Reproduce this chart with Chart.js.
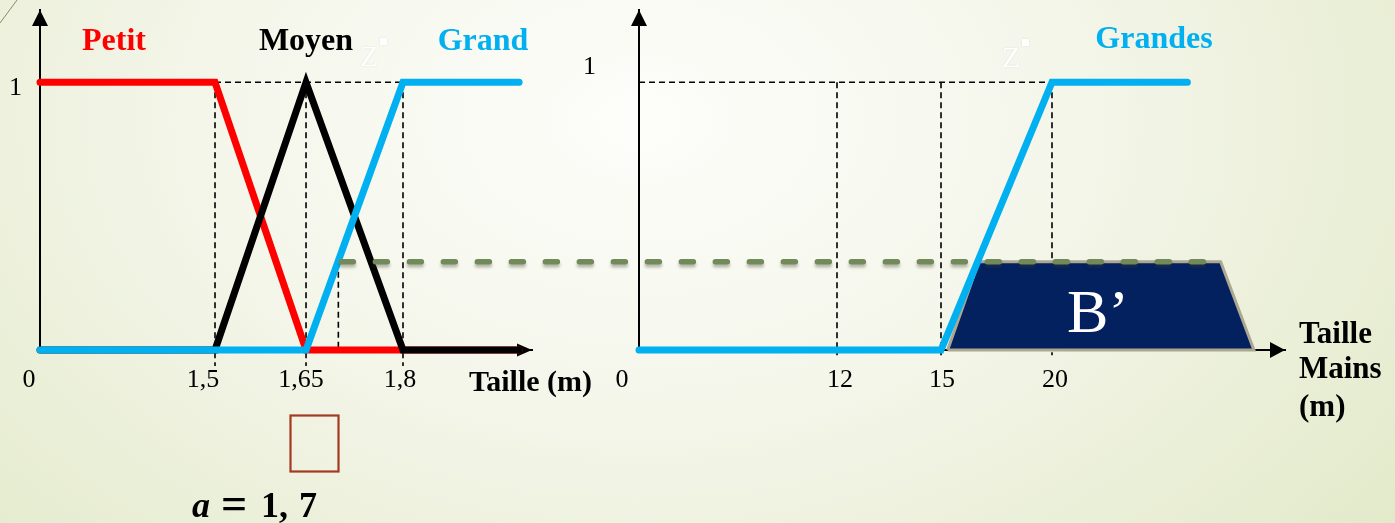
<!DOCTYPE html>
<html lang="fr">
<head>
<meta charset="utf-8">
<title>Taille et Taille Mains</title>
<script src="https://cdn.jsdelivr.net/npm/chart.js@4.4.1/dist/chart.umd.min.js"></script>
<style>
  html, body { margin: 0; padding: 0; }
  body {
    width: 1395px;
    height: 523px;
    overflow: hidden;
    position: relative;
    background: radial-gradient(ellipse 950px 650px at 640px 120px, #fdfdfa 0%, #f4f6ea 45%, #e3eaca 100%);
  }
  canvas { position: absolute; left: 0; top: 0; }
</style>
</head>
<body>
<canvas id="leftChart" width="1395" height="523"></canvas>
<canvas id="rightChart" width="1395" height="523"></canvas>
<script>
// left diagram: Taille (m)
const TAILLE_TICKS = [0, 1.5, 1.65, 1.8];
const TAILLE_LABELS = ["0", "1,5", "1,65", "1,8"];
const PETIT = [[0, 1], [1.5, 1], [1.65, 0], [1.98, 0]];
const MOYEN = [[0, 0], [1.5, 0], [1.65, 1], [1.8, 0], [1.98, 0]];
const GRAND = [[0, 0], [1.65, 0], [1.8, 1], [1.98, 1]];
const A_VALUE = 1.7;
const CUT_LEVEL = 0.33;

// right diagram: Taille Mains (m)
const MAINS_TICKS = [0, 12, 15, 20];
const MAINS_LABELS = ["0", "12", "15", "20"];
const GRANDES = [[0, 0], [15, 0], [20, 1], [26.1, 1]];
const B_PRIME = [[15.3, 0], [16.7, 0.33], [27.6, 0.33], [29.1, 0], [15.3, 0]];

const COLORS = {
  petit: "#ff0000",
  moyen: "#000000",
  grand: "#00b0f0",
  cut: "#72895a",
  bFill: "#03205f",
  bEdge: "#aca791",
  marker: "#a1311b",
  box: "#a33a22",
};
const SERIF = "'Liberation Serif', 'Times New Roman', serif";

// the x axes are not drawn to one scale: each stop is [value, fraction of axis length]
const TAILLE_STOPS = [[0, 0], [1.5, 0.3557], [1.65, 0.5407], [1.8, 0.7378], [2.0, 1]];
const MAINS_STOPS = [[0, 0], [12, 0.3065], [15, 0.4675], [20, 0.6393], [30.5, 1]];

function brokenScale(id, stops, labelShift) {
  return class extends Chart.LinearScale {
    static id = id;
    static defaults = Chart.LinearScale.defaults;

    getPixelForValue(value) {
      if (value === null || value === undefined) return NaN;
      let i = 1;
      while (i < stops.length - 1 && value > stops[i][0]) i++;
      const [v0, f0] = stops[i - 1];
      const [v1, f1] = stops[i];
      return this.getPixelForDecimal(f0 + ((value - v0) / (v1 - v0)) * (f1 - f0));
    }

    getValueForPixel(pixel) {
      const d = this.getDecimalForPixel(pixel);
      let i = 1;
      while (i < stops.length - 1 && d > stops[i][1]) i++;
      const [v0, f0] = stops[i - 1];
      const [v1, f1] = stops[i];
      return v0 + ((d - f0) / (f1 - f0)) * (v1 - v0);
    }

    getPixelForTick(index) {
      return super.getPixelForTick(index) + (labelShift[index] || 0);
    }
  };
}

Chart.register(
  brokenScale("tailleAxis", TAILLE_STOPS, [-11, -12, -5, -3]),
  brokenScale("mainsAxis", MAINS_STOPS, [-17, 3, 1, 3])
);

const pts = (arr) => arr.map(([x, y]) => ({ x, y }));

function curve(data, color) {
  return {
    data: pts(data),
    showLine: true,
    borderColor: color,
    borderWidth: 7,
    borderCapStyle: "round",
    borderJoinStyle: "miter",
    pointRadius: 0,
    clip: false,
  };
}

function guide(data) {
  return {
    data: pts(data),
    showLine: true,
    borderColor: "#000000",
    borderWidth: 1.6,
    borderDash: [6, 4],
    pointRadius: 0,
    clip: false,
  };
}

function noOverflow(scale) {
  scale.paddingTop = 0;
  scale.paddingBottom = 0;
  scale.paddingLeft = 0;
  scale.paddingRight = 0;
}

function xAxis(type, max, ticks, labels) {
  return {
    type,
    min: 0,
    max,
    grid: { display: false, drawTicks: false },
    border: { display: true, color: "#000000", width: 2 },
    afterBuildTicks: (scale) => { scale.ticks = ticks.map((value) => ({ value })); },
    afterFit: (scale) => { scale.height = 173; noOverflow(scale); },
    ticks: {
      autoSkip: false,
      maxRotation: 0,
      minRotation: 0,
      padding: 15,
      color: "#000000",
      font: { family: SERIF, size: 26 },
      callback: (value, index) => labels[index],
    },
  };
}

function yAxis(width, padding, labelOffset) {
  return {
    type: "linear",
    min: 0,
    max: 1.27,
    grid: { display: false, drawTicks: false },
    border: { display: true, color: "#000000", width: 2 },
    afterBuildTicks: (scale) => { scale.ticks = [{ value: 1 }]; },
    afterFit: (scale) => { scale.width = width; noOverflow(scale); },
    ticks: {
      padding,
      labelOffset,
      color: "#000000",
      font: { family: SERIF, size: 26 },
      callback: () => "1",
    },
  };
}

function drawText(ctx, str, x, y, font, color, align = "left") {
  ctx.save();
  ctx.font = font;
  ctx.fillStyle = color;
  ctx.textAlign = align;
  ctx.textBaseline = "alphabetic";
  ctx.fillText(str, x, y);
  ctx.restore();
}

function arrowUp(ctx, x, y) {
  ctx.beginPath();
  ctx.moveTo(x, y);
  ctx.lineTo(x - 8, y + 16);
  ctx.lineTo(x + 8, y + 16);
  ctx.closePath();
  ctx.fill();
}

function arrowRight(ctx, x, y, half) {
  ctx.beginPath();
  ctx.moveTo(x, y);
  ctx.lineTo(x - 15, y - half);
  ctx.lineTo(x - 15, y + half);
  ctx.closePath();
  ctx.fill();
}

function ghostZ(ctx, x, y) {
  ctx.save();
  ctx.shadowColor = "rgba(0,0,0,0.12)";
  ctx.shadowBlur = 2;
  drawText(ctx, "Z", x, y, `30px ${SERIF}`, "rgba(255,255,255,0.95)");
  ctx.fillStyle = "#ffffff";
  ctx.fillRect(x + 20, y - 28, 7, 7);
  ctx.restore();
}

const tailleDecor = {
  id: "tailleDecor",
  beforeDraw(chart) {
    const { ctx } = chart;
    ctx.save();
    ctx.strokeStyle = "#8d8772";
    ctx.lineWidth = 1;
    ctx.beginPath();
    ctx.moveTo(0, 23);
    ctx.lineTo(17, 0);
    ctx.stroke();
    ctx.restore();
  },
  beforeDatasetsDraw(chart) {
    const { ctx, chartArea } = chart;
    ctx.save();
    ctx.fillStyle = "#000000";
    arrowUp(ctx, chartArea.left, chartArea.top);
    arrowRight(ctx, chartArea.right, chartArea.bottom, 6.5);
    ctx.restore();
  },
  afterDraw(chart) {
    const { ctx } = chart;
    const bold = `bold 32px ${SERIF}`;
    drawText(ctx, "Petit", 114, 50, bold, COLORS.petit, "center");
    drawText(ctx, "Moyen", 306, 50, bold, COLORS.moyen, "center");
    drawText(ctx, "Grand", 483, 50, bold, COLORS.grand, "center");
    drawText(ctx, "Taille (m)", 469, 391, `bold 30px ${SERIF}`, "#000000");
    ghostZ(ctx, 360, 66);

    ctx.save();
    ctx.strokeStyle = COLORS.box;
    ctx.lineWidth = 2.2;
    ctx.strokeRect(290.5, 415.5, 48, 56);
    ctx.restore();

    drawText(ctx, "a", 192, 517, `italic bold 36px ${SERIF}`, "#000000");
    drawText(ctx, "=", 234, 519, `bold 46px ${SERIF}`, "#000000", "center");
    drawText(ctx, "1,", 261, 517, `bold 36px ${SERIF}`, "#000000");
    drawText(ctx, "7", 299, 517, `bold 36px ${SERIF}`, "#000000");
  },
};

const leftChart = new Chart(document.getElementById("leftChart"), {
  type: "scatter",
  data: {
    datasets: [
      curve(GRAND, COLORS.grand),
      curve(MOYEN, COLORS.moyen),
      curve(PETIT, COLORS.petit),
      {
        data: [{ x: A_VALUE, y: -0.075 }],
        pointStyle: "triangle",
        pointRadius: 9,
        backgroundColor: COLORS.marker,
        borderWidth: 0,
        clip: false,
      },
      guide([[1.5, 1], [1.8, 1]]),
      guide([[1.5, 1], [1.5, -0.06]]),
      guide([[1.65, 1], [1.65, -0.06]]),
      guide([[1.8, 1], [1.8, -0.06]]),
      guide([[A_VALUE, CUT_LEVEL], [A_VALUE, 0]]),
    ],
  },
  options: {
    responsive: false,
    animation: false,
    events: [],
    layout: { padding: { left: 0, top: 10, right: 863, bottom: 0 } },
    plugins: { legend: { display: false }, tooltip: { enabled: false } },
    scales: {
      x: xAxis("tailleAxis", 2.0, TAILLE_TICKS, TAILLE_LABELS),
      y: yAxis(40, 18, 6),
    },
  },
  plugins: [tailleDecor],
});

const mainsDecor = {
  id: "mainsDecor",
  beforeDatasetsDraw(chart) {
    const { ctx, chartArea } = chart;
    ctx.save();
    ctx.fillStyle = "#000000";
    arrowUp(ctx, chartArea.left, chartArea.top);
    arrowRight(ctx, chartArea.right, chartArea.bottom, 8);
    ctx.restore();
  },
  afterDatasetsDraw(chart) {
    const { ctx, scales } = chart;
    // alpha cut carried from a = 1,7 on the left diagram to B'
    const yCut = scales.y.getPixelForValue(CUT_LEVEL);
    const xStart = leftChart.scales.x.getPixelForValue(A_VALUE);
    const xEnd = scales.x.getPixelForValue(B_PRIME[2][0]);
    ctx.save();
    ctx.strokeStyle = COLORS.cut;
    ctx.lineWidth = 5.5;
    ctx.lineCap = "round";
    ctx.setLineDash([12, 22]);
    ctx.shadowColor = "rgba(60,60,40,0.35)";
    ctx.shadowOffsetY = 3;
    ctx.shadowBlur = 3;
    ctx.beginPath();
    ctx.moveTo(xStart + 3, yCut);
    ctx.lineTo(xEnd - 16, yCut);
    ctx.stroke();
    ctx.restore();

    drawText(ctx, "B\u2019", 1098, 332, `62px ${SERIF}`, "#ffffff", "center");
  },
  afterDraw(chart) {
    const { ctx } = chart;
    drawText(ctx, "Grandes", 1154, 48, `bold 32px ${SERIF}`, COLORS.grand, "center");
    const bold = `bold 31px ${SERIF}`;
    drawText(ctx, "Taille", 1299, 343, bold, "#000000");
    drawText(ctx, "Mains", 1299, 378, bold, "#000000");
    drawText(ctx, "(m)", 1299, 416, bold, "#000000");
    ghostZ(ctx, 1002, 67);
  },
};

const rightChart = new Chart(document.getElementById("rightChart"), {
  type: "scatter",
  data: {
    datasets: [
      curve(GRANDES, COLORS.grand),
      {
        data: pts(B_PRIME),
        showLine: true,
        fill: "shape",
        backgroundColor: COLORS.bFill,
        borderColor: COLORS.bEdge,
        borderWidth: 3,
        borderJoinStyle: "miter",
        pointRadius: 0,
        clip: false,
      },
      guide([[0, 1], [20, 1]]),
      guide([[12, 1], [12, -0.02]]),
      guide([[15, 1], [15, -0.02]]),
      guide([[20, 1], [20, -0.02]]),
    ],
  },
  options: {
    responsive: false,
    animation: false,
    events: [],
    layout: { padding: { left: 569, top: 10, right: 110, bottom: 0 } },
    plugins: { legend: { display: false }, tooltip: { enabled: false } },
    scales: {
      x: xAxis("mainsAxis", 30.5, MAINS_TICKS, MAINS_LABELS),
      y: yAxis(70, 43, -15),
    },
  },
  plugins: [mainsDecor],
});
</script>
</body>
</html>
